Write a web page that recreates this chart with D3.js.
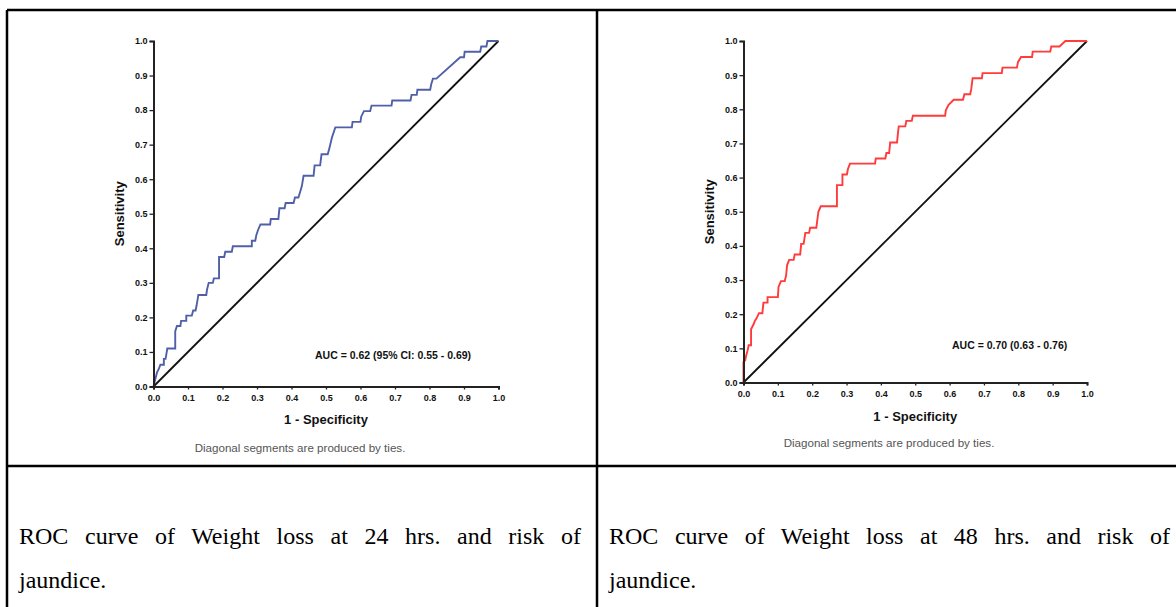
<!DOCTYPE html>
<html>
<head>
<meta charset="utf-8">
<script src="https://cdn.jsdelivr.net/npm/d3@7"></script>
<style>
  body { margin: 0; background: #fff; }
  #page { position: relative; width: 1176px; height: 607px; overflow: hidden; }
  svg { position: absolute; left: 0; top: 0; }
  .caption {
    position: absolute;
    font-family: "Liberation Serif", "Times New Roman", serif;
    font-size: 24px;
    line-height: 44px;
    color: #000;
  }
  .caption .full { text-align: justify; text-align-last: justify; }
  .caption .last { text-align: left; }
</style>
</head>
<body>
<div id="page"></div>
<script>
// ticks shared by both plots
const tickValues = [0, 0.1, 0.2, 0.3, 0.4, 0.5, 0.6, 0.7, 0.8, 0.9, 1.0];

// ROC at 24 hrs (1 - specificity, sensitivity)
const fpr24 = [0, 0.005, 0.01, 0.015, 0.02, 0.03, 0.03, 0.035, 0.04, 0.063, 0.063, 0.068, 0.078, 0.08, 0.095,
  0.095, 0.111, 0.115, 0.122, 0.125, 0.13, 0.153, 0.155, 0.16, 0.172, 0.175, 0.19, 0.19, 0.205, 0.208, 0.227,
  0.23, 0.285, 0.285, 0.295, 0.298, 0.303, 0.31, 0.338, 0.34, 0.362, 0.365, 0.38, 0.383, 0.406, 0.41, 0.42,
  0.425, 0.43, 0.435, 0.464, 0.467, 0.483, 0.487, 0.505, 0.51, 0.517, 0.527, 0.575, 0.577, 0.6, 0.602, 0.61,
  0.628, 0.632, 0.69, 0.692, 0.745, 0.748, 0.763, 0.765, 0.802, 0.805, 0.81, 0.82, 0.889, 0.9, 0.902, 0.947,
  0.95, 0.965, 0.968, 1.0];
const tpr24 = [0, 0.02, 0.04, 0.05, 0.063, 0.063, 0.08, 0.08, 0.11, 0.11, 0.16, 0.175, 0.175, 0.19, 0.19,
  0.205, 0.205, 0.22, 0.22, 0.235, 0.265, 0.265, 0.28, 0.3, 0.3, 0.313, 0.313, 0.375, 0.375, 0.39, 0.39,
  0.406, 0.406, 0.422, 0.422, 0.438, 0.453, 0.469, 0.469, 0.485, 0.485, 0.516, 0.516, 0.531, 0.531, 0.547, 0.547,
  0.563, 0.58, 0.61, 0.61, 0.64, 0.64, 0.672, 0.672, 0.69, 0.72, 0.75, 0.75, 0.766, 0.766, 0.781, 0.797,
  0.797, 0.813, 0.813, 0.828, 0.828, 0.844, 0.844, 0.859, 0.859, 0.875, 0.891, 0.891, 0.953, 0.953, 0.969, 0.969,
  0.984, 0.984, 1.0, 1.0];

// ROC at 48 hrs
const fpr48 = [0, 0, 0.005, 0.008, 0.012, 0.015, 0.022, 0.022, 0.03, 0.033, 0.038, 0.045, 0.055, 0.058, 0.07,
  0.07, 0.1, 0.102, 0.109, 0.12, 0.124, 0.127, 0.133, 0.146, 0.149, 0.165, 0.168, 0.175, 0.18, 0.191, 0.194,
  0.212, 0.214, 0.218, 0.225, 0.272, 0.272, 0.288, 0.288, 0.301, 0.304, 0.31, 0.383, 0.385, 0.413, 0.416, 0.424,
  0.427, 0.447, 0.45, 0.452, 0.471, 0.474, 0.49, 0.493, 0.587, 0.589, 0.597, 0.612, 0.639, 0.643, 0.66, 0.663,
  0.667, 0.694, 0.696, 0.752, 0.754, 0.796, 0.799, 0.808, 0.84, 0.842, 0.893, 0.896, 0.92, 0.937, 1.0];
const tpr48 = [0, 0.06, 0.065, 0.08, 0.094, 0.109, 0.109, 0.156, 0.172, 0.18, 0.188, 0.203, 0.203, 0.234, 0.234,
  0.25, 0.25, 0.28, 0.297, 0.297, 0.313, 0.344, 0.359, 0.359, 0.375, 0.375, 0.406, 0.406, 0.438, 0.438, 0.453,
  0.453, 0.469, 0.5, 0.516, 0.516, 0.578, 0.578, 0.609, 0.609, 0.625, 0.641, 0.641, 0.656, 0.656, 0.672, 0.672,
  0.703, 0.703, 0.734, 0.75, 0.75, 0.766, 0.766, 0.781, 0.781, 0.797, 0.813, 0.828, 0.828, 0.844, 0.844, 0.859,
  0.891, 0.891, 0.906, 0.906, 0.922, 0.922, 0.938, 0.953, 0.953, 0.969, 0.969, 0.984, 0.984, 1.0, 1.0];

const panels = [
  { fpr: fpr24, tpr: tpr24, color: "#5060a8", x0: 153.5, x1: 498.5, yTop: 41, yBot: 386.5,
    auc: "AUC = 0.62 (95% CI: 0.55 - 0.69)", aucX: 315, aucY: 359,
    ylabX: 124, xlabY: 424, noteX: 300, noteY: 452 },
  { fpr: fpr48, tpr: tpr48, color: "#ff3b3b", x0: 743.5, x1: 1087, yTop: 41, yBot: 382.5,
    auc: "AUC = 0.70 (0.63 - 0.76)", aucX: 952, aucY: 349,
    ylabX: 714, xlabY: 421, noteX: 889, noteY: 447 }
];

// caption lines as they wrap in the table cells
const captionLines24 = ["ROC curve of Weight loss at 24 hrs. and risk of", "jaundice."];
const captionLines48 = ["ROC curve of Weight loss at 48 hrs. and risk of", "jaundice."];
const captions = [
  { lines: captionLines24, left: 19, width: 562 },
  { lines: captionLines48, left: 609, width: 561 }
];

const page = d3.select("#page");
const svg = page.append("svg").attr("width", 1176).attr("height", 607);

// table borders
const grid = svg.append("g").attr("stroke", "#000").attr("stroke-width", 2.5);
grid.append("line").attr("x1", 7).attr("x2", 1176).attr("y1", 10).attr("y2", 10);
grid.append("line").attr("x1", 7).attr("x2", 7).attr("y1", 10).attr("y2", 607);
grid.append("line").attr("x1", 597).attr("x2", 597).attr("y1", 10).attr("y2", 607);
grid.append("line").attr("x1", 7).attr("x2", 1176).attr("y1", 466).attr("y2", 466);

panels.forEach(p => drawPanel(p));

function drawPanel(p) {
  const x = d3.scaleLinear().domain([0, 1]).range([p.x0, p.x1]);
  const y = d3.scaleLinear().domain([0, 1]).range([p.yBot, p.yTop]);
  const g = svg.append("g");

  // reference diagonal
  g.append("line")
    .attr("x1", x(0)).attr("y1", y(0)).attr("x2", x(1)).attr("y2", y(1))
    .attr("stroke", "#111").attr("stroke-width", 1.8);

  // roc curve
  const pts = p.fpr.map((f, i) => [f, p.tpr[i]]);
  const line = d3.line().x(d => x(d[0])).y(d => y(d[1]));
  g.append("path")
    .datum(pts)
    .attr("d", line)
    .attr("fill", "none")
    .attr("stroke", p.color)
    .attr("stroke-width", 1.9)
    .attr("stroke-linejoin", "miter");

  const fmt = d3.format(".1f");
  const yAxis = g.append("g")
    .attr("transform", `translate(${p.x0},0)`)
    .call(d3.axisLeft(y).tickValues(tickValues).tickFormat(fmt).tickSizeOuter(0).tickSize(4).tickPadding(2));
  const xAxis = g.append("g")
    .attr("transform", `translate(0,${p.yBot})`)
    .call(d3.axisBottom(x).tickValues(tickValues).tickFormat(fmt).tickSizeOuter(0).tickSize(3).tickPadding(5));

  [xAxis, yAxis].forEach(a => {
    a.select(".domain").attr("stroke", "#222").attr("stroke-width", 2);
    a.selectAll(".tick line").attr("stroke", "#222").attr("stroke-width", 1.3);
    a.selectAll(".tick text")
      .attr("fill", "#111")
      .style("font-family", "Liberation Sans, Arial, sans-serif")
      .style("font-size", "9px")
      .style("font-weight", "bold");
  });

  // axis titles
  g.append("text")
    .attr("transform", `translate(${p.ylabX},${(p.yTop + p.yBot) / 2}) rotate(-90)`)
    .attr("text-anchor", "middle")
    .style("font-family", "Liberation Sans, Arial, sans-serif")
    .style("font-size", "13px")
    .style("font-weight", "bold")
    .attr("fill", "#111")
    .text("Sensitivity");

  g.append("text")
    .attr("x", (p.x0 + p.x1) / 2)
    .attr("y", p.xlabY)
    .attr("text-anchor", "middle")
    .style("font-family", "Liberation Sans, Arial, sans-serif")
    .style("font-size", "13px")
    .style("font-weight", "bold")
    .attr("fill", "#111")
    .text("1 - Specificity");

  // AUC note
  g.append("text")
    .attr("x", p.aucX)
    .attr("y", p.aucY)
    .style("font-family", "Liberation Sans, Arial, sans-serif")
    .style("font-size", "10.5px")
    .style("font-weight", "bold")
    .attr("fill", "#111")
    .text(p.auc);

  // footnote
  g.append("text")
    .attr("x", p.noteX)
    .attr("y", p.noteY)
    .attr("text-anchor", "middle")
    .style("font-family", "Liberation Sans, Arial, sans-serif")
    .style("font-size", "11.6px")
    .attr("fill", "#555")
    .text("Diagonal segments are produced by ties.");
}

// captions in the lower table row
const cap = page.selectAll(".caption")
  .data(captions)
  .join("div")
  .attr("class", "caption")
  .style("left", d => d.left + "px")
  .style("top", "514px")
  .style("width", d => d.width + "px");

cap.selectAll("div")
  .data(d => d.lines)
  .join("div")
  .attr("class", (d, i, nodes) => i < nodes.length - 1 ? "full" : "last")
  .text(d => d);
</script>
</body>
</html>
